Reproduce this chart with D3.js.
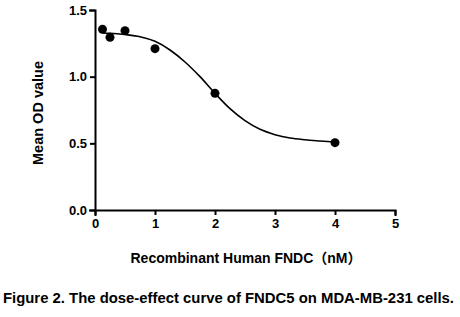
<head>
	<script src="https://d3js.org/d3.v7.min.js"></script>
	<style type="text/css">
		body { margin: 0; background: #fff; }
		text { font-family: "Liberation Sans", Arial, "Noto Sans CJK SC", sans-serif; font-weight: bold; fill: #000; }
		.axis path, .axis line { stroke: #000; stroke-width: 2; }
	</style>
</head>
<body>
	<script type="text/javascript">
		// measured points
		const doses = [0.125, 0.25, 0.5, 1, 2, 4]
		const od = [1.355, 1.295, 1.345, 1.21, 0.875, 0.505]

		// fitted curve
		const fitX = [0.125, 0.25, 0.5, 0.75, 1.0, 1.25, 1.5, 1.75, 2.0, 2.25, 2.5, 2.75, 3.0, 3.25, 3.5, 3.75, 4.0]
		const fitY = [1.328, 1.326, 1.316, 1.30, 1.265, 1.20, 1.11, 1.00, 0.875, 0.76, 0.67, 0.605, 0.565, 0.54, 0.527, 0.518, 0.51]

		const xTicks = [0, 1, 2, 3, 4, 5]
		const yTicks = [0, 0.5, 1.0, 1.5]

		const width = 460, height = 317
		const svg = d3.select('body').append('svg')
			.attr('width', width)
			.attr('height', height)

		const x = d3.scaleLinear().domain([0, 5]).range([95, 395])
		const y = d3.scaleLinear().domain([0, 1.5]).range([210, 10])

		svg.append('g')
			.attr('class', 'axis')
			.attr('transform', 'translate(0,210)')
			.call(d3.axisBottom(x).tickValues(xTicks).tickFormat(d3.format('d')).tickSizeOuter(0).tickSize(5).tickPadding(4))
			.selectAll('text').style('font-size', '13px')

		svg.append('g')
			.attr('class', 'axis')
			.attr('transform', 'translate(95,0)')
			.call(d3.axisLeft(y).tickValues(yTicks).tickFormat(d3.format('.1f')).tickSizeOuter(0).tickSize(5).tickPadding(3))
			.selectAll('text').style('font-size', '13px')

		svg.selectAll('.axis .domain').attr('stroke-linecap', 'square')

		const pts = fitX.map((d, i) => [d, fitY[i]])
		svg.append('path')
			.datum(pts)
			.attr('d', d3.line().x(d => x(d[0])).y(d => y(d[1])).curve(d3.curveMonotoneX))
			.attr('fill', 'none')
			.attr('stroke', '#000')
			.attr('stroke-width', 1.6)

		svg.selectAll('circle.pt')
			.data(doses)
			.enter()
			.append('circle')
			.attr('class', 'pt')
			.attr('cx', d => x(d))
			.attr('cy', (d, i) => y(od[i]))
			.attr('r', 4.5)
			.attr('fill', '#000')

		svg.append('text')
			.attr('transform', 'translate(43,113) rotate(-90)')
			.attr('text-anchor', 'middle')
			.style('font-size', '14.5px')
			.text('Mean OD value')

		svg.append('text')
			.attr('x', 246)
			.attr('y', 263)
			.attr('text-anchor', 'middle')
			.style('font-size', '14px')
			.text('Recombinant Human FNDC（nM）')

		svg.append('text')
			.attr('x', 3)
			.attr('y', 303)
			.attr('textLength', 451)
			.attr('lengthAdjust', 'spacingAndGlyphs')
			.style('font-size', '14.5px')
			.text('Figure 2. The dose-effect curve of FNDC5 on MDA-MB-231 cells.')
	</script>
</body>
